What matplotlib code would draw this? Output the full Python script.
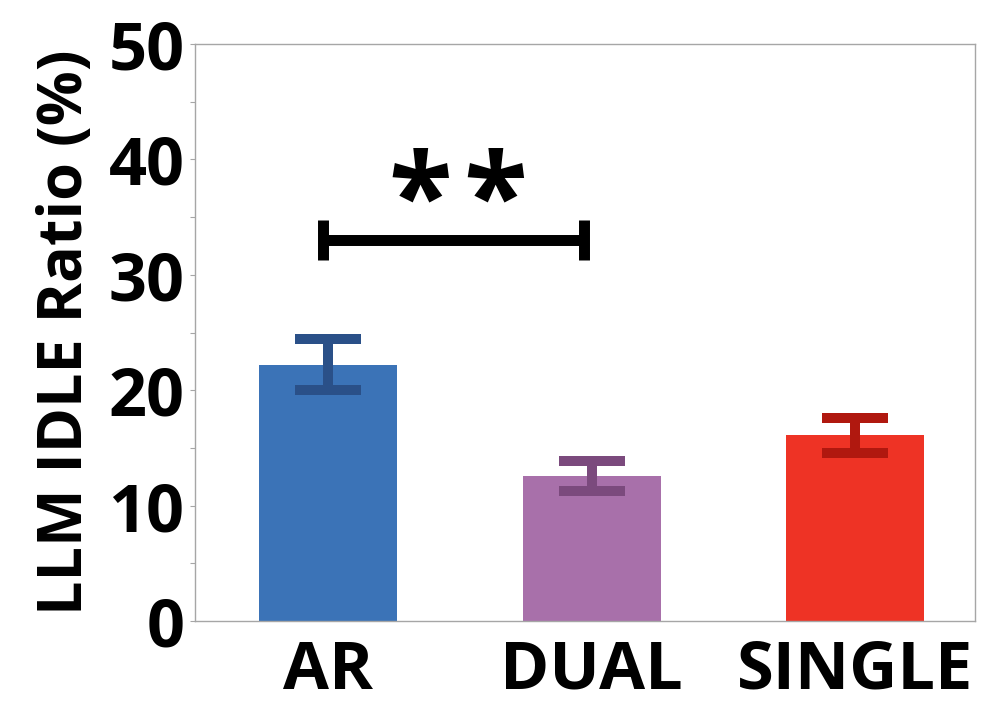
import numpy as np
import matplotlib
matplotlib.use("Agg")
import matplotlib.pyplot as plt
from matplotlib.ticker import MultipleLocator

plt.rcParams["font.family"] = ["Open Sans", "DejaVu Sans"]
plt.rcParams["font.weight"] = "bold"

groups = ["AR", "DUAL", "SINGLE"]
idle_ratio = [22.2, 12.6, 16.1]
idle_err = [2.2, 1.3, 1.5]
bar_colors = ["#3b73b7", "#a870aa", "#ee3325"]
err_colors = ["#2a5088", "#7b4a7d", "#b0180f"]
sig_label = "*\u200a*"

fig = plt.figure(figsize=(10, 7.26), dpi=100)
ax = fig.add_axes([0.195, 0.1446, 0.78, 0.7948])

x = np.arange(len(groups))
ax.bar(x, idle_ratio, width=0.524, color=bar_colors, zorder=2)
for i in range(len(groups)):
    ax.errorbar(x[i], idle_ratio[i], yerr=idle_err[i], fmt="none",
                ecolor=err_colors[i], elinewidth=7.2, capsize=23.8,
                capthick=7.2, zorder=3)

# significance bracket between AR and DUAL
y_br = 33.0
ax.plot([x[0] - 0.02, x[1] - 0.03], [y_br, y_br], color="black", lw=7.9,
        solid_capstyle="butt", zorder=4)
for xb in [x[0] - 0.02, x[1] - 0.03]:
    ax.plot([xb, xb], [31.3, 34.75], color="black", lw=7.9,
            solid_capstyle="butt", zorder=4)
ax.text((x[0] + x[1]) / 2 - 0.005, 33.3, sig_label, ha="center", va="baseline",
        fontsize=84, fontweight="bold")

ax.set_xlim(-0.505, 2.455)
ax.set_ylim(0, 50)
ax.yaxis.set_major_locator(MultipleLocator(10))
ax.yaxis.set_minor_locator(MultipleLocator(5))
ax.set_xticks(x)
ax.set_xticklabels(groups)

for s in ax.spines.values():
    s.set_color("#a6a6a6")
    s.set_linewidth(1.0)

ax.tick_params(axis="y", which="both", direction="out", length=3.6,
               width=0.8, color="#a6a6a6", labelsize=48, pad=4)
ax.tick_params(axis="x", length=0, labelsize=48, pad=12)
for lab in ax.get_xticklabels() + ax.get_yticklabels():
    lab.set_fontweight("bold")

ax.set_ylabel("LLM IDLE Ratio (%)", fontsize=44, fontweight="bold", labelpad=8)

fig.savefig("out.png", dpi=100)
